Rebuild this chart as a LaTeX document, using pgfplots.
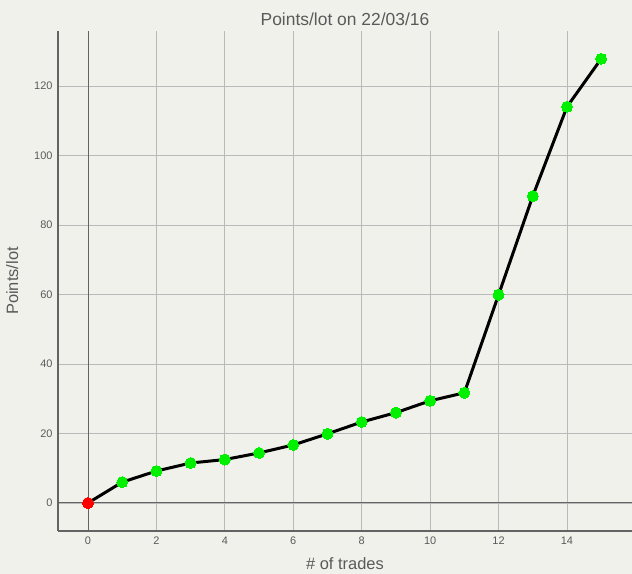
\documentclass[border=0pt]{standalone}
\usepackage{pgfplots}
\pgfplotsset{compat=1.18}
\usepackage{fontspec}
\setmainfont{Liberation Sans}
\definecolor{bgc}{RGB}{241,241,236}
\definecolor{gridc}{RGB}{185,185,185}
\definecolor{axc}{RGB}{100,100,100}
\definecolor{txtc}{RGB}{90,90,90}
\definecolor{grn}{RGB}{0,240,0}
\begin{document}
\begin{tikzpicture}[x=1bp,y=1bp]
\fill[bgc] (-58bp,-43bp) rectangle (574bp,531bp);
\path[use as bounding box] (-58bp,-43bp) rectangle (574bp,531bp);
\begin{axis}[
  at={(0bp,0bp)}, anchor=south west,
  scale only axis, width=574bp, height=500bp,
  xmin=-0.877, xmax=15.9, ymin=-8.06, ymax=135.8,
  axis x line*=bottom, axis y line*=left,
  axis line style={axc, line width=1.2bp},
  xtick={0,2,...,14}, ytick={0,20,...,120},
  major tick length=0pt,
  grid=major, grid style={gridc, line width=0.8bp},
  tick label style={font=\fontsize{11}{13}\selectfont, text=txtc},
  /pgf/number format/assume math mode=true,
  xticklabel style={yshift=-2bp},
  yticklabel style={xshift=-2bp},
  title={Points/lot on 22/03/16},
  title style={font=\fontsize{17.5}{20}\selectfont, text=txtc, yshift=-4bp},
  xlabel={\# of trades},
  xlabel style={font=\fontsize{16.5}{19}\selectfont, text=txtc, yshift=-6bp},
  ylabel={Points/lot},
  ylabel style={font=\fontsize{16.5}{19}\selectfont, text=txtc, yshift=9bp},
  clip=false,
]
\draw[axc, line width=1bp] (axis cs:0,-8.06) -- (axis cs:0,135.8);
\draw[axc, line width=1bp] (axis cs:-0.877,0) -- (axis cs:15.9,0);
\addplot[black, line width=3bp, no marks]
coordinates {(0,0)(1,6.0)(2,9.2)(3,11.5)(4,12.5)(5,14.4)(6,16.7)(7,19.9)(8,23.3)(9,26.0)(10,29.4)(11,31.7)(12,59.9)(13,88.3)(14,114.0)(15,127.8)};
\addplot[only marks, mark=*, mark size=5.5bp, grn, mark options={draw=grn, fill=grn, line width=0pt}]
coordinates {(1,6.0)(2,9.2)(3,11.5)(4,12.5)(5,14.4)(6,16.7)(7,19.9)(8,23.3)(9,26.0)(10,29.4)(11,31.7)(12,59.9)(13,88.3)(14,114.0)(15,127.8)};
\addplot[only marks, mark=*, mark size=5.5bp, red, mark options={draw=red, fill=red, line width=0pt}]
coordinates {(0,0)};
\end{axis}
\end{tikzpicture}
\end{document}
